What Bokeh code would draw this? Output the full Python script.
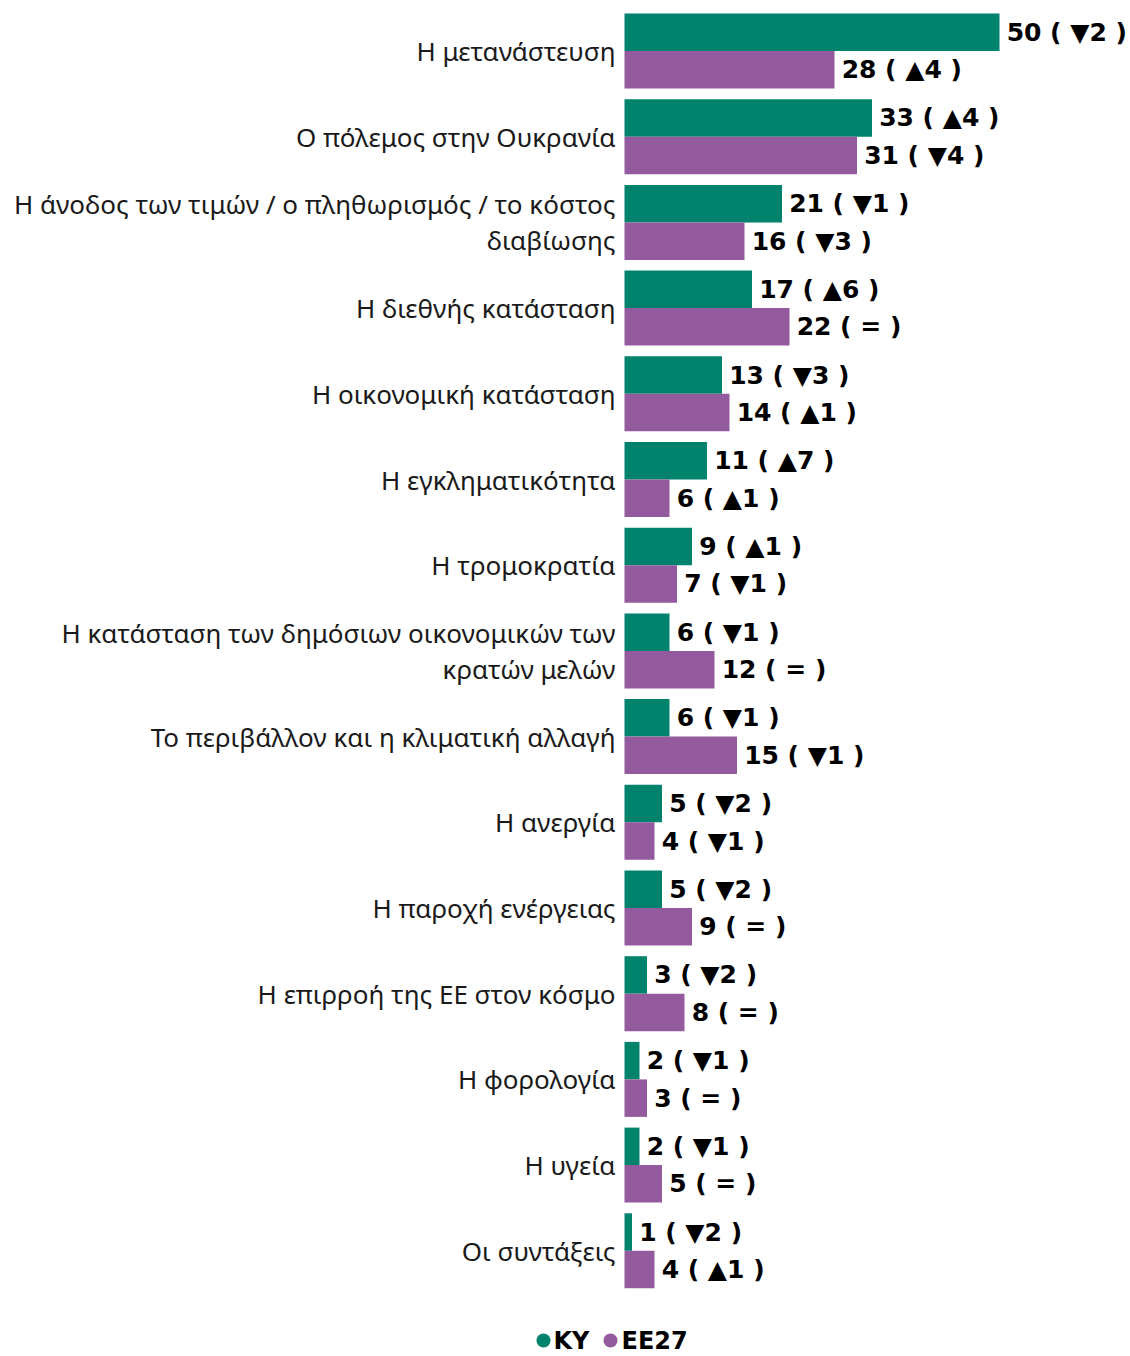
from bokeh.plotting import figure
from bokeh.models import Range1d, ColumnDataSource
from bokeh.core.properties import value
from bokeh.embed import file_html
from bokeh.resources import INLINE

categories = [
    "Η μετανάστευση",
    "Ο πόλεμος στην Ουκρανία",
    "Η άνοδος των τιμών / ο πληθωρισμός / το κόστος\nδιαβίωσης",
    "Η διεθνής κατάσταση",
    "Η οικονομική κατάσταση",
    "Η εγκληματικότητα",
    "Η τρομοκρατία",
    "Η κατάσταση των δημόσιων οικονομικών των\nκρατών μελών",
    "Το περιβάλλον και η κλιματική αλλαγή",
    "Η ανεργία",
    "Η παροχή ενέργειας",
    "Η επιρροή της ΕΕ στον κόσμο",
    "Η φορολογία",
    "Η υγεία",
    "Οι συντάξεις",
]
ky_values = [50, 33, 21, 17, 13, 11, 9, 6, 6, 5, 5, 3, 2, 2, 1]
ky_change = [-2, 4, -1, 6, -3, 7, 1, -1, -1, -2, -2, -2, -1, -1, -2]
eu_values = [28, 31, 16, 22, 14, 6, 7, 12, 15, 4, 9, 8, 3, 5, 4]
eu_change = [4, -4, -3, 0, 1, 1, -1, 0, -1, -1, 0, 0, 0, 0, 1]
series_names = ["KY", "EE27"]

GREEN = "#00826c"
PURPLE = "#935b9e"

def fmt(v, c):
    if c > 0:
        return f"{v} ( \u25b2{c} )"
    if c < 0:
        return f"{v} ( \u25bc{-c} )"
    return f"{v} ( = )"

n = len(categories)
idx = list(range(n))
bh = 37.5 / 85.7

ky_src = ColumnDataSource(dict(
    y=[i - bh / 2 for i in idx], right=ky_values,
    lx=[v + 0.95 for v in ky_values],
    lab=[fmt(v, c) for v, c in zip(ky_values, ky_change)]))
eu_src = ColumnDataSource(dict(
    y=[i + bh / 2 for i in idx], right=eu_values,
    lx=[v + 0.95 for v in eu_values],
    lab=[fmt(v, c) for v, c in zip(eu_values, eu_change)]))
cat_src = ColumnDataSource(dict(y=idx, x=[-1.2] * n, t=categories))

W, H = 1130, 1356
p = figure(width=W, height=H, output_backend="svg", toolbar_location=None,
           x_range=Range1d(-624 / 7.5, 506 / 7.5),
           y_range=Range1d((1356 - 50.5) / 85.7, (0 - 50.5) / 85.7),
           min_border=0)
p.axis.visible = False
p.grid.visible = False
p.outline_line_color = None
p.background_fill_color = "white"

p.hbar(y="y", left=0, right="right", height=bh, source=ky_src,
       fill_color=GREEN, line_color=None)
p.hbar(y="y", left=0, right="right", height=bh, source=eu_src,
       fill_color=PURPLE, line_color=None)

for src in (ky_src, eu_src):
    p.text(x="lx", y="y", text="lab", source=src,
           text_font=value("DejaVu Sans"), text_font_style="bold",
           text_font_size="25px", text_color="black",
           text_align="left", text_baseline="middle")

p.text(x="x", y="y", text="t", source=cat_src,
       text_font=value("Noto Sans"), text_font_size="26px",
       text_color="#1a1a1a", text_align="right", text_baseline="middle",
       text_line_height=1.0)

# legend
ly = (1340 - 50.5) / 85.7
p.scatter(x=[(543 - 624) / 7.5, (610 - 624) / 7.5], y=[ly, ly], size=14,
          fill_color=[GREEN, PURPLE], line_color=None)
p.text(x=[(553 - 624) / 7.5, (621 - 624) / 7.5], y=[ly, ly], text=series_names,
       text_font=value("DejaVu Sans"), text_font_style="bold",
       text_font_size="24px", text_color="black",
       text_align="left", text_baseline="middle")

open("out.html", "w").write(file_html(p, INLINE))
